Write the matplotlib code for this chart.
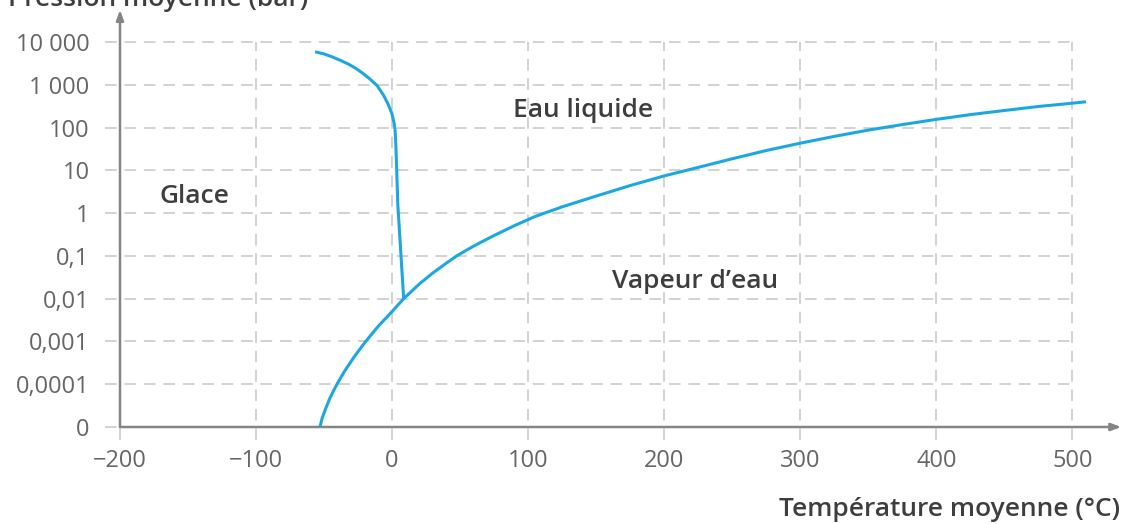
import numpy as np
import matplotlib.pyplot as plt

# Tick values
x_ticks = [-200, -100, 0, 100, 200, 300, 400, 500]
x_tick_labels = ['\u2212200', '\u2212100', '0', '100', '200', '300', '400', '500']
y_ticks = [0, 0.0001, 0.001, 0.01, 0.1, 1, 10, 100, 1000, 10000]
y_tick_labels = ['0', '0,0001', '0,001', '0,01', '0,1', '1', '10', '100', '1 000', '10 000']

# Courbe de vaporisation / sublimation (T en °C, P en bar)
vap_T = [-53, -51.5, -49, -46, -43, -40, -35, -28, -20, -10, 0, 8.5, 20, 30, 40, 47.5,
         60, 75, 90, 105, 125, 150, 175, 200, 225, 250, 275, 300, 325, 350, 375, 400,
         425, 450, 475, 500, 510]
vap_P = [0, 1.58e-5, 2.6e-5, 4.5e-5, 7.1e-5, 1.07e-4, 2.0e-4, 4.3e-4, 9.5e-4, 2.3e-3, 5.0e-3, 0.010,
         0.022, 0.040, 0.068, 0.10, 0.17, 0.30, 0.51, 0.83, 1.4, 2.5, 4.4, 7.4, 11.7, 18.6,
         29, 43, 62, 87, 117, 155, 200, 250, 310, 370, 400]

# Courbe de fusion
fus_T = [-56.6, -50, -44, -38, -32, -27, -22, -16.2, -11, -6.4, -3, -0.2, 1.5, 2.2, 2.9, 4.2, 8.5]
fus_P = [5890, 5250, 4470, 3720, 3020, 2450, 1900, 1350, 955, 575, 355, 214, 126, 87, 29.5, 1.58, 0.010]


def to_pos(p):
    # echelle "decade" : 0 en bas, puis 0,0001 ... 10 000
    p = np.asarray(p, dtype=float)
    out = np.zeros_like(p)
    nz = p > 0
    out[nz] = np.log10(p[nz]) + 5
    return out


plt.rcParams['font.family'] = ['Open Sans', 'DejaVu Sans']

fig = plt.figure(figsize=(11.26, 5.24), dpi=100)
ax = fig.add_axes([120 / 1126, 97 / 524, 1000 / 1126, 415 / 524])
ax.set_xlim(-200, 535)
ax.set_ylim(0, 9.7)
for s in ax.spines.values():
    s.set_visible(False)

grid_kw = dict(color='#d2d2d2', lw=1.4, linestyles=(0, (6, 4)), clip_on=False, zorder=1)
ypos = to_pos(y_ticks)
ax.hlines(ypos, -211, 500, **grid_kw)
ax.vlines(x_ticks, -0.3, ypos[-1], **grid_kw)

axis_col = '#858585'
arr = dict(arrowstyle='-|>,head_length=0.6,head_width=0.22', color=axis_col, lw=1.8, shrinkA=0, shrinkB=0)
ax.annotate('', xy=(536, 0), xytext=(-200, 0), annotation_clip=False, arrowprops=arr)
ax.annotate('', xy=(-200, 9.75), xytext=(-200, 0), annotation_clip=False, arrowprops=arr)

ax.plot(vap_T, to_pos(vap_P), color='#1da7e1', lw=2.2, zorder=3, solid_capstyle='butt')
ax.plot(fus_T, to_pos(fus_P), color='#1da7e1', lw=2.2, zorder=3, solid_capstyle='butt')

ax.set_xticks(x_ticks)
ax.set_xticklabels(x_tick_labels)
ax.set_yticks(ypos)
ax.set_yticklabels(y_tick_labels)
ax.tick_params(axis='both', length=0, labelsize=17, labelcolor='#666666')
ax.tick_params(axis='y', pad=22)
ax.tick_params(axis='x', pad=16)

lab_kw = dict(fontsize=19, fontweight='semibold', color='#3e3e3e', ha='center', va='center', zorder=4)
ax.text(-145, to_pos([2.4])[0], 'Glace', **lab_kw)
ax.text(140, to_pos([250])[0], 'Eau liquide', **lab_kw)
ax.text(223, to_pos([0.025])[0], 'Vapeur d\u2019eau', **lab_kw)

fig.text(1120 / 1126, 1 - 510 / 524, 'Température moyenne (°C)', ha='right', va='center',
         fontsize=19, fontweight='semibold', color='#3e3e3e')
fig.text(8 / 1126, 1 - 6 / 524, 'Pression moyenne (bar)', ha='left', va='baseline',
         fontsize=19, fontweight='semibold', color='#3e3e3e')

fig.savefig('out.png', dpi=100)
